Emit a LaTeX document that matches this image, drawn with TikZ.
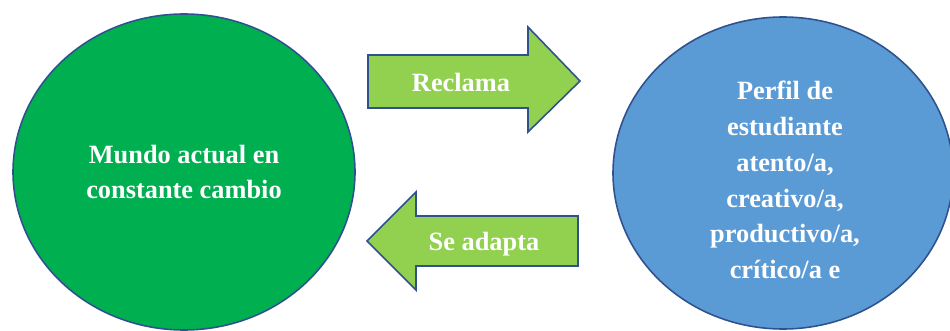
\documentclass[tikz,border=0pt]{standalone}
\usepackage{fontspec}
\setmainfont{Liberation Serif}
\usetikzlibrary{shapes.geometric}
\usetikzlibrary{positioning}
\definecolor{mundo}{HTML}{00B050}
\definecolor{perfil}{HTML}{5B9BD5}
\definecolor{flecha}{HTML}{92D050}
\definecolor{borde}{HTML}{2F528F}
\tikzset{
  circulo/.style={draw=borde, line width=0.9pt, ellipse, inner sep=0pt},
  bloque/.style={draw=borde, line width=0.9pt, fill=flecha, line join=miter},
  texto/.style={text=white, font=\fontsize{15}{20.4}\selectfont\bfseries, align=center}
}

\begin{document}
\begin{tikzpicture}[x=0.02cm, y=-0.02cm]
            \useasboundingbox (0,0) rectangle (950,331);
            % two worlds and the arrows between them
            \node[circulo, fill=mundo, minimum width=342*0.02cm, minimum height=316*0.02cm] (mundo) at (184,172) {};
            \node[circulo, fill=perfil, minimum width=340*0.02cm, minimum height=312*0.02cm] (perfil) at (783,173) {};
            \node[texto] (mundotxt) at (mundo.center) {Mundo actual en\\constante cambio};
            \node[texto] (perfiltxt) at (785,180) {Perfil de\\estudiante\\atento/a,\\creativo/a,\\productivo/a,\\crítico/a e};
            
            \draw[bloque] (368,55) -- (528,55) -- (528,27) -- (580,81) -- (528,132) -- (528,108) -- (368,108) -- cycle;
            \draw[bloque] (578,216) -- (416,216) -- (416,192) -- (367,241) -- (416,290) -- (416,266) -- (578,266) -- cycle;
            \node[texto] (reclama) at (461,82) {Reclama};
            \node[texto] (adapta) at (484,244) {Se adapta};
        \end{tikzpicture}
\end{document}
